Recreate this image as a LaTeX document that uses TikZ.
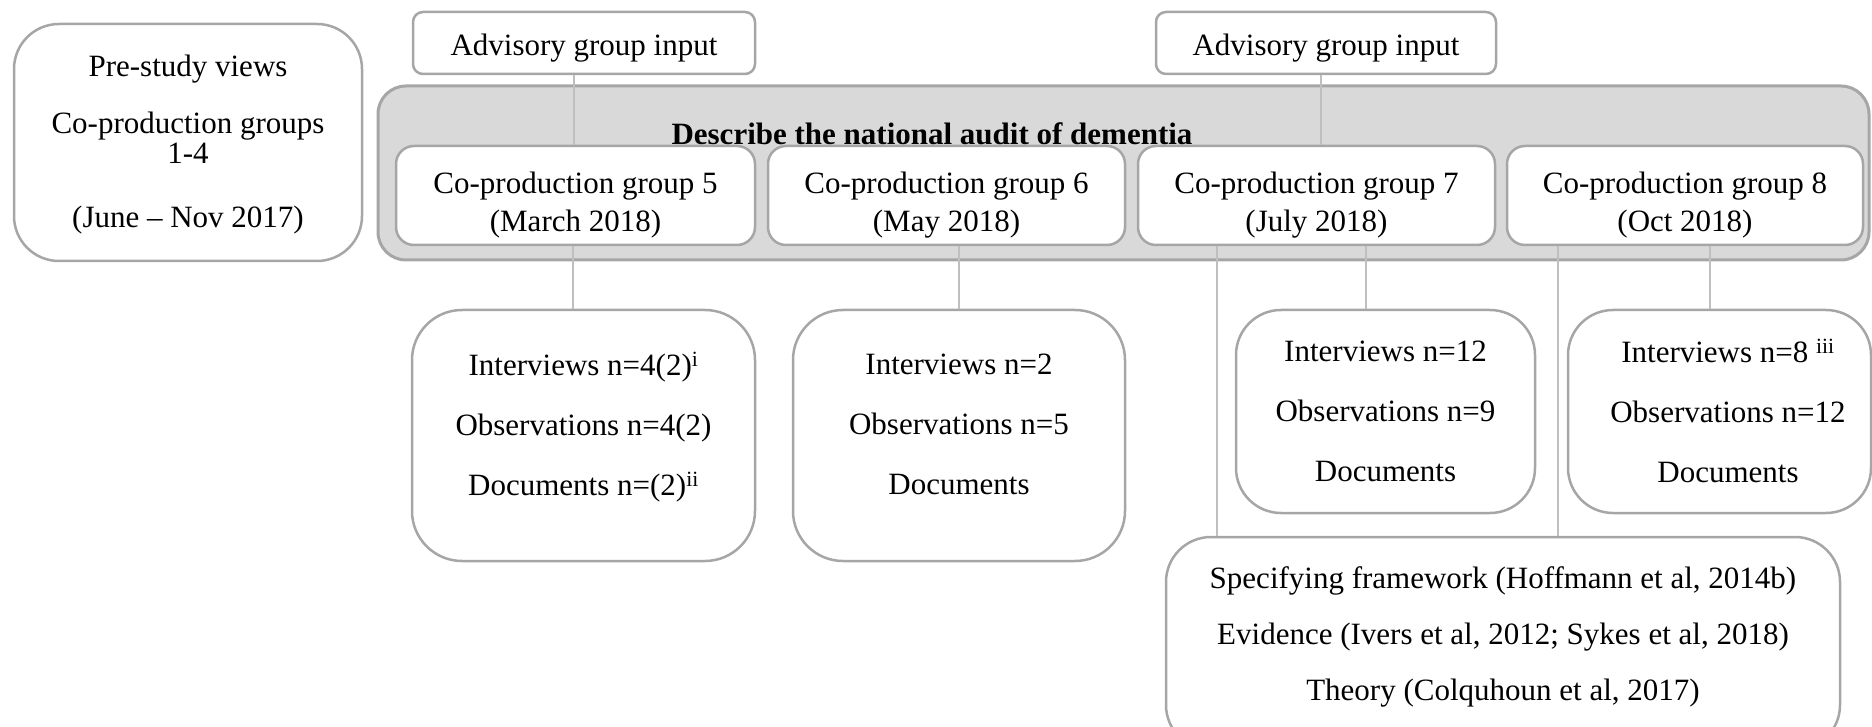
\documentclass[tikz,border=0pt]{standalone}
\usepackage{fontspec}
\setmainfont{Liberation Serif}
\definecolor{edgegray}{HTML}{A6A6A6}
\definecolor{bandgray}{HTML}{D9D9D9}
\definecolor{linkgray}{HTML}{BFBFBF}

\begin{document}
\begin{tikzpicture}[x=1pt, y=-1pt,
    every node/.style={inner sep=0pt, align=center},
    txt/.style={font=\fontsize{31}{#1}\selectfont},
    box/.style={draw=edgegray, line width=2.5pt, fill=white, rounded corners=#1},
    link/.style={draw=linkgray, line width=1.5pt}]
    \clip (0,0) rectangle (1872,727);

    % Before the study
    \node[box=45pt, minimum width=348pt, minimum height=237pt] (pre) at (188,142.5) {};
    \node[txt=30pt] (pretxt) at (188,145) {Pre-study views\\[27pt]Co-production groups\\1-4\\[34pt](June -- Nov 2017)};

    % Advisory group
    \node[box=10pt, minimum width=342pt, minimum height=62pt] (adv1) at (584,43) {};
    \node[txt=35pt] at (584,48) {Advisory group input};
    \node[box=10pt, minimum width=340pt, minimum height=62pt] (adv2) at (1326,43) {};
    \node[txt=35pt] at (1326,48) {Advisory group input};

    % The audit band
    \node[draw=edgegray, line width=3pt, fill=bandgray, rounded corners=28pt,
          minimum width=1491pt, minimum height=174pt] (audit) at (1123.5,173) {};
    \node[font={\fontsize{31}{35}\selectfont\bfseries}] (title) at (932,134) {Describe the national audit of dementia};
    \node[box=18pt, minimum width=359pt, minimum height=99pt] (g5) at (575.5,195.5) {};
    \node[txt=38pt] at (575.5,205) {Co-production group 5\\(March 2018)};
    \node[box=18pt, minimum width=357pt, minimum height=99pt] (g6) at (946.5,195.5) {};
    \node[txt=38pt] at (946.5,205) {Co-production group 6\\(May 2018)};
    \node[box=18pt, minimum width=357pt, minimum height=99pt] (g7) at (1316.5,195.5) {};
    \node[txt=38pt] at (1316.5,205) {Co-production group 7\\(July 2018)};
    \node[box=18pt, minimum width=356pt, minimum height=99pt] (g8) at (1685,195.5) {};
    \node[txt=38pt] at (1685,205) {Co-production group 8\\(Oct 2018)};

    % Data collected
    \node[box=50pt, minimum width=343pt, minimum height=251pt] (box5) at (583.5,435.5) {};
    \node[txt=60pt] at (583.5,427) {Interviews n=4(2)\textsuperscript{i}\\Observations n=4(2)\\Documents n=(2)\textsuperscript{ii}};
    \node[box=50pt, minimum width=332pt, minimum height=251pt] (box6) at (959,435.5) {};
    \node[txt=60pt] at (959,424) {Interviews n=2\\Observations n=5\\Documents};
    \node[box=45pt, minimum width=299pt, minimum height=203pt] (box7) at (1385.5,411.5) {};
    \node[txt=60pt] at (1385.5,411) {Interviews n=12\\Observations n=9\\Documents};
    \node[box=45pt, minimum width=303pt, minimum height=203pt] (box8) at (1719.5,411.5) {};
    \node[txt=60pt] at (1728,411) {Interviews n=8 \textsuperscript{iii}\\Observations n=12\\Documents};

    % Frameworks
    \node[box=45pt, minimum width=674pt, minimum height=213pt] (frame) at (1503,643.5) {};
    \node[txt=56pt] at (1503,637) {Specifying framework (Hoffmann et al, 2014b)\\Evidence (Ivers et al, 2012; Sykes et al, 2018)\\Theory (Colquhoun et al, 2017)};

    % Connectors
    \draw[link] (574,0 |- adv1.south) -- (574,0 |- g5.north);
    \draw[link] (1321,0 |- adv2.south) -- (1321,0 |- g7.north);
    \draw[link] (573,0 |- g5.south) -- (573,0 |- box5.north);
    \draw[link] (959,0 |- g6.south) -- (959,0 |- box6.north);
    \draw[link] (1366,0 |- g7.south) -- (1366,0 |- box7.north);
    \draw[link] (1217,0 |- g7.south) -- (1217,0 |- frame.north);
    \draw[link] (1558,0 |- g8.south) -- (1558,0 |- frame.north);
    \draw[link] (1710,0 |- g8.south) -- (1710,0 |- box8.north);
\end{tikzpicture}
\end{document}
